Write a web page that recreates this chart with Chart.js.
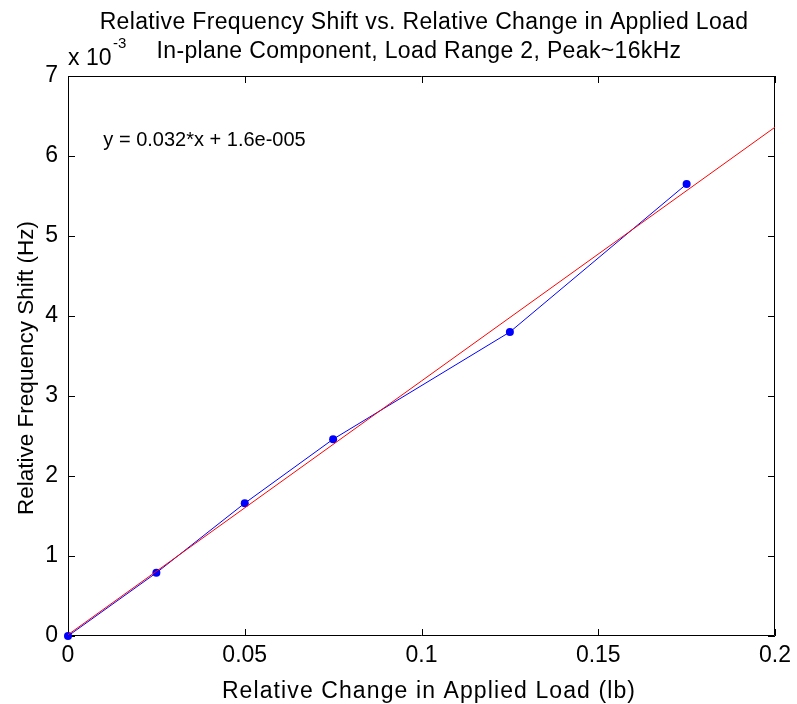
<!DOCTYPE html>
<html><head><meta charset="utf-8">
<script src="https://cdn.jsdelivr.net/npm/chart.js@4/dist/chart.umd.min.js"></script>
<style>html,body{margin:0;padding:0;background:#fff}#wrap{width:797px;height:704px}</style>
</head><body><div id="wrap"><canvas id="c" width="797" height="704"></canvas></div>
<script>
const titleLines = ['Relative Frequency Shift vs. Relative Change in Applied Load', 'In-plane Component, Load Range 2, Peak~16kHz'];
const xTitle = 'Relative Change in Applied Load (lb)';
const yTitle = 'Relative Frequency Shift (Hz)';
const expBase = 'x 10';
const expPow = '-3';
const fitLabel = 'y = 0.032*x + 1.6e-005';
const fitLabelAt = [0.0100, 6.19];
const loadChange = [0, 0.025, 0.05, 0.075, 0.125, 0.175];
const freqShift = [0, 0.79, 1.66, 2.46, 3.80, 5.65]; // units of 1e-3
const fitX = [0, 0.2];
const fitY = [0.016, 6.36];
const xTicks = [0, 0.05, 0.1, 0.15, 0.2];
const yTicks = [0, 1, 2, 3, 4, 5, 6, 7];

const FONT = "'Liberation Sans', Arial, Helvetica, sans-serif";

function spaced(ctx, px) { if ('letterSpacing' in ctx) ctx.letterSpacing = px + 'px'; }

const deco = {
  id: 'deco',
  beforeDatasetsDraw(chart) {
    const {ctx, chartArea: a, scales: {x, y}} = chart;
    ctx.save();
    ctx.strokeStyle = '#000';
    ctx.lineWidth = 1;
    ctx.beginPath();
    ctx.rect(a.left + 0.5, a.top + 0.5, a.right - a.left - 1, a.bottom - a.top - 1);
    const tl = 7;
    xTicks.forEach(v => {
      const px = Math.round(x.getPixelForValue(v)) + 0.5;
      ctx.moveTo(px, a.bottom); ctx.lineTo(px, a.bottom - tl);
      ctx.moveTo(px, a.top); ctx.lineTo(px, a.top + tl);
    });
    yTicks.forEach(v => {
      const py = Math.round(y.getPixelForValue(v)) + 0.5;
      ctx.moveTo(a.left, py); ctx.lineTo(a.left + tl, py);
      ctx.moveTo(a.right, py); ctx.lineTo(a.right - tl, py);
    });
    ctx.stroke();
    ctx.restore();
  },
  afterDraw(chart) {
    const {ctx, chartArea: a, scales: {x, y}} = chart;
    ctx.save();
    ctx.fillStyle = '#000';
    ctx.textAlign = 'center';
    ctx.textBaseline = 'alphabetic';
    ctx.font = '23px ' + FONT;
    spaced(ctx, 0.35);
    ctx.fillText(titleLines[0], 424, 29);
    ctx.fillText(titleLines[1], 419, 58);
    spaced(ctx, 1.1);
    ctx.fillText(xTitle, 429, 698);
    spaced(ctx, 0);
    ctx.font = '22.5px ' + FONT;
    ctx.save();
    ctx.translate(33, 368);
    ctx.rotate(-Math.PI / 2);
    ctx.fillText(yTitle, 0, 0);
    ctx.restore();
    ctx.font = '23px ' + FONT;
    ctx.textAlign = 'left';
    ctx.fillText(expBase, 68, 65);
    ctx.font = '15px ' + FONT;
    ctx.fillText(expPow, 113, 48);
    ctx.font = '20px ' + FONT;
    ctx.textBaseline = 'middle';
    ctx.fillText(fitLabel, x.getPixelForValue(fitLabelAt[0]), y.getPixelForValue(fitLabelAt[1]));
    ctx.restore();
  }
};

new Chart(document.getElementById('c'), {
  type: 'scatter',
  data: {
    datasets: [
      {
        data: fitX.map((v, i) => ({x: v, y: fitY[i]})),
        showLine: true, borderColor: '#ff0000', borderWidth: 1, pointRadius: 0, fill: false
      },
      {
        data: loadChange.map((v, i) => ({x: v, y: freqShift[i]})),
        showLine: true, borderColor: '#0000ff', borderWidth: 1,
        pointRadius: 4, pointBackgroundColor: '#0000ff', pointBorderColor: '#0000ff', pointBorderWidth: 0,
        clip: false, fill: false
      }
    ]
  },
  options: {
    responsive: false, animation: false, devicePixelRatio: 1,
    layout: {padding: {left: 0, right: 21, top: 76, bottom: 0}},
    plugins: {legend: {display: false}, tooltip: {enabled: false}, title: {display: false}},
    scales: {
      x: {
        type: 'linear', min: 0, max: 0.2,
        afterFit(s) { s.height = 68; },
        afterBuildTicks(s) { s.ticks = xTicks.map(v => ({value: v})); },
        grid: {display: false, drawTicks: false},
        border: {display: false},
        ticks: {padding: 6, color: '#000', font: {family: FONT, size: 23}, maxRotation: 0,
          callback: v => String(v)}
      },
      y: {
        type: 'linear', min: 0, max: 7,
        afterFit(s) { s.width = 68; },
        afterBuildTicks(s) { s.ticks = yTicks.map(v => ({value: v})); },
        grid: {display: false, drawTicks: false},
        border: {display: false},
        ticks: {padding: 10, color: '#000', font: {family: FONT, size: 23}, callback: v => String(v)}
      }
    }
  },
  plugins: [deco]
});
</script></body></html>
